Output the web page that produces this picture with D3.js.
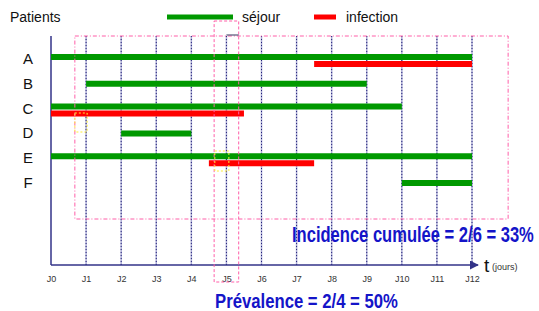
<!DOCTYPE html>
<html>
<head>
<meta charset="utf-8">
<script src="https://cdn.jsdelivr.net/npm/d3@7.9.0/dist/d3.min.js"></script>
<style>
  body { margin: 0; background: #fff; }
  svg { display: block; font-family: "Liberation Sans", Arial, sans-serif; }
</style>
</head>
<body>
<svg id="chart" width="539" height="311"></svg>
<script>
// patients and their stays / infection periods (in days)
const patients = ['A', 'B', 'C', 'D', 'E', 'F'];
const sejourStart = [0, 1, 0, 2, 0, 10];
const sejourEnd = [12, 9, 10, 4, 12, 12];
const infectionStart = [7.5, null, 0, null, 4.5, null];
const infectionEnd = [12, null, 5.5, null, 7.5, null];
const days = d3.range(0, 13);
const dayLabels = days.map(d => 'J' + d);

const svg = d3.select('#chart');
const x = d3.scaleLinear().domain([0, 12]).range([51, 472]);
const y = d3.scalePoint().domain(patients).range([59, 183]);
const axisY = 265, topY = 36;

const green = '#009900', red = '#ff0000', navy = '#333388', pink = '#ff5ea8';

// vertical dotted day lines
svg.append('g').selectAll('line')
  .data(days.slice(1))
  .join('line')
  .attr('x1', d => x(d)).attr('x2', d => x(d))
  .attr('y1', topY).attr('y2', axisY)
  .attr('stroke', '#aaaad4').attr('stroke-width', 1.5);
svg.append('g').selectAll('line')
  .data(days.slice(1))
  .join('line')
  .attr('x1', d => x(d)).attr('x2', d => x(d))
  .attr('y1', topY).attr('y2', axisY)
  .attr('stroke', '#222277').attr('stroke-width', 1)
  .attr('stroke-dasharray', '1,2');

// x axis with labels
const xAxis = d3.axisBottom(x)
  .tickValues(days)
  .tickFormat(d => dayLabels[d])
  .tickSize(0)
  .tickPadding(11);
const gx = svg.append('g').attr('transform', `translate(0,${axisY})`).call(xAxis);
gx.select('.domain').remove();
gx.selectAll('text')
  .attr('font-family', '"Liberation Sans Narrow", "Liberation Sans", sans-serif')
  .attr('font-size', 9)
  .attr('fill', '#333');

// axis lines
svg.append('defs').append('marker')
  .attr('id', 'arrow').attr('viewBox', '0 0 10 10')
  .attr('refX', 9).attr('refY', 5)
  .attr('markerWidth', 6).attr('markerHeight', 6)
  .attr('orient', 'auto')
  .append('path').attr('d', 'M0,0 L10,5 L0,10 z').attr('fill', navy);
svg.append('line')
  .attr('x1', x(0)).attr('x2', x(12) + 6)
  .attr('y1', axisY).attr('y2', axisY)
  .attr('stroke', navy).attr('stroke-width', 1.5)
  .attr('marker-end', 'url(#arrow)');
svg.append('line')
  .attr('x1', x(0)).attr('x2', x(0))
  .attr('y1', topY).attr('y2', axisY)
  .attr('stroke', navy).attr('stroke-width', 1.5);

svg.append('text').attr('x', 484).attr('y', 272)
  .attr('font-size', 19).attr('fill', '#111').text('t');
svg.append('text').attr('x', 492).attr('y', 270)
  .attr('font-family', '"Liberation Sans Narrow", "Liberation Sans", sans-serif')
  .attr('font-size', 9).attr('fill', '#333').text('(jours)');

// séjour bars
const hasInf = patients.map((p, i) => infectionStart[i] !== null);
svg.append('g').selectAll('line')
  .data(patients)
  .join('line')
  .attr('x1', (p, i) => x(sejourStart[i]))
  .attr('x2', (p, i) => x(sejourEnd[i]))
  .attr('y1', (p, i) => y(p) - (hasInf[i] ? 2 : 0))
  .attr('y2', (p, i) => y(p) - (hasInf[i] ? 2 : 0))
  .attr('stroke', green).attr('stroke-width', 6);

// infection bars
svg.append('g').selectAll('line')
  .data(patients.filter((p, i) => hasInf[i]))
  .join('line')
  .attr('x1', p => x(infectionStart[patients.indexOf(p)]))
  .attr('x2', p => x(infectionEnd[patients.indexOf(p)]))
  .attr('y1', p => y(p) + 5)
  .attr('y2', p => y(p) + 5)
  .attr('stroke', red).attr('stroke-width', 6);

// row labels
svg.append('g').selectAll('text')
  .data(patients)
  .join('text')
  .attr('x', 28).attr('y', p => y(p) + 5)
  .attr('text-anchor', 'middle')
  .attr('font-size', 15).attr('fill', '#111')
  .text(p => p);

// incidence window (dash-dot)
svg.append('rect')
  .attr('x', x(0.68)).attr('y', topY)
  .attr('width', x(13.03) - x(0.68)).attr('height', 219 - topY)
  .attr('fill', 'none').attr('stroke', pink).attr('stroke-width', 1)
  .attr('stroke-dasharray', '4,2,1,2');

// prevalence window (dashed) around J5
svg.append('rect')
  .attr('x', x(4.65)).attr('y', 21)
  .attr('width', x(5.35) - x(4.65)).attr('height', 282 - 21)
  .attr('fill', 'none').attr('stroke', pink).attr('stroke-width', 1)
  .attr('stroke-dasharray', '3,2');
svg.append('line')
  .attr('x1', x(5)).attr('x2', x(5.35))
  .attr('y1', 35).attr('y2', 35)
  .attr('stroke', '#555577').attr('stroke-width', 1.2);

// yellow markers
[[0.68, 1.03, 113, 132], [4.67, 5.07, 151, 171]].forEach(([a, b, t, bt]) => {
  svg.append('rect')
    .attr('x', x(a)).attr('y', t)
    .attr('width', x(b) - x(a)).attr('height', bt - t)
    .attr('fill', 'none').attr('stroke', '#ffee33').attr('stroke-width', 1)
    .attr('stroke-dasharray', '2,2');
});

// legend
svg.append('text').attr('x', 10).attr('y', 22)
  .attr('font-size', 14).attr('fill', '#111').text('Patients');
svg.append('line').attr('x1', 167).attr('x2', 233).attr('y1', 17).attr('y2', 17)
  .attr('stroke', green).attr('stroke-width', 5);
svg.append('text').attr('x', 242).attr('y', 22)
  .attr('font-size', 14).attr('fill', '#111').text('séjour');
svg.append('line').attr('x1', 314).attr('x2', 336).attr('y1', 17).attr('y2', 17)
  .attr('stroke', red).attr('stroke-width', 5);
svg.append('text').attr('x', 346).attr('y', 22)
  .attr('font-size', 14).attr('fill', '#111').text('infection');

// results: condensed bold text, squeezed horizontally to fit
const blue = '#1414c8';
function squeezed(label, x0, y0, width, size) {
  const t = svg.append('text')
    .attr('font-weight', 'bold').attr('font-size', size).attr('fill', blue)
    .text(label);
  const natural = t.node().getComputedTextLength();
  t.attr('transform', `translate(${x0},${y0}) scale(${width / natural},1)`);
}
squeezed('Incidence cumulée = 2/6 = 33%', 292, 242, 242, 22);
squeezed('Prévalence = 2/4 = 50%', 215, 308, 183, 21);
</script>
</body>
</html>
